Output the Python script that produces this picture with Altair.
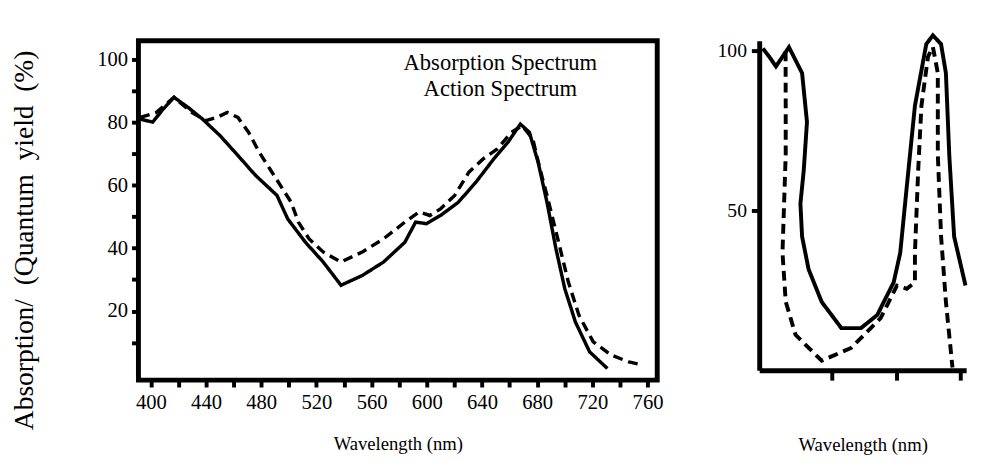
import altair as alt
import pandas as pd

# ---------------- left panel data ----------------
abs_nm = [392.3, 401.3, 409, 416.8, 427, 437.4, 450.2, 463.1, 476, 486.3, 491.4, 499.2, 512,
          524.9, 537.8, 553.2, 568.7, 584.1, 591.9, 599.6, 609.9, 622.8, 635.6, 648.5, 658.8,
          667.8, 674.3, 680.7, 687.1, 693.6, 700, 707.7, 718, 730.9]
abs_val = [81.1, 80.1, 84.3, 88, 84.8, 81.1, 75.8, 69.5, 63.1, 58.9, 56.8, 49.3, 41.9,
           35.6, 28.2, 31.3, 35.6, 41.9, 48.3, 47.8, 50.4, 54.6, 61, 68.4, 73.7,
           79.5, 76.9, 67.3, 54.6, 39.8, 27.1, 16.5, 7, 1.7]

act_nm = [392.3, 403.9, 416.8, 429.6, 439.9, 447.7, 455.4, 463.1, 470.8, 478.6, 486.3, 494,
          501.7, 506.9, 514.6, 524.9, 537.8, 553.2, 568.7, 584.1, 594.4, 602.2, 609.9, 620.2,
          630.5, 640.8, 651.1, 661.4, 669.1, 676.8, 682, 687.1, 694.9, 702.6, 710.3, 720.6,
          733.5, 746.4, 756.7]
act_val = [81.6, 83.2, 88, 83.2, 80.6, 81.6, 83.2, 81.6, 76.9, 70.5, 65.2, 59.9,
           54.6, 48.3, 43, 38.8, 35.6, 38.8, 43, 48.3, 51.5, 50.4, 52.5, 56.8,
           64.2, 68.4, 71.6, 76.9, 79, 74.8, 65.2, 56.8, 43, 29.2, 18.6, 10.2,
           6, 3.8, 2.8]

# ---------------- right panel data ----------------
r_solid_nm = [392.6, 402.7, 413, 423.2, 433.3, 453.7, 461.3, 456.2, 451.1, 453.7, 463.8, 484.2,
              514.8, 545.3, 570.7, 596.2, 606.4, 616.5, 629.3, 647, 657.2, 669.9, 677.5, 682.7,
              690.3, 708]
r_solid_val = [100.6, 98, 95, 98, 101, 92.9, 77.6, 62.3, 52.1, 41.8, 31.6, 21.4,
               13.2, 13.2, 17.3, 27.5, 36.7, 57.2, 82.7, 102, 104.7, 102, 92.9, 67.4,
               41.8, 26.5]

r_dash_nm = [428, 428.2, 428.2, 425.7, 423.2, 428.2, 443.5, 484.2, 530, 575.9, 601.2, 616.5,
             629.3, 629.3, 634.3, 639.4, 649.6, 657.2, 664.9, 664.9, 670, 677.5, 687.7]
r_dash_val = [99.7, 82.8, 67.5, 52.1, 36.8, 21.5, 11.1, 3, 7, 16.3, 26.5, 25.5,
              27.5, 36.7, 62.3, 82.7, 98, 101.1, 92.9, 67.4, 41.8, 21.4, 0.9]

legend_labels = ["Absorption Spectrum", "Action Spectrum"]
x_ticks_left = list(range(400, 761, 20))
y_ticks_left = list(range(10, 101, 10))
x_ticks_right = [500, 600, 700]
y_ticks_right = [50, 100]
x_title = "Wavelength (nm)"
y_title = "Absorption/\u00a0\u00a0(Quantum\u00a0\u00a0yield\u00a0\u00a0(%)"

FONT = "Liberation Serif"


def frame(nm, val, name):
    return pd.DataFrame({"nm": nm, "val": val, "series": name, "i": list(range(len(nm)))})


left_df = pd.concat([frame(abs_nm, abs_val, legend_labels[0]),
                     frame(act_nm, act_val, legend_labels[1])], ignore_index=True)
right_df = pd.concat([frame(r_solid_nm, r_solid_val, legend_labels[0]),
                      frame(r_dash_nm, r_dash_val, legend_labels[1])], ignore_index=True)

dash_scale = alt.Scale(domain=legend_labels, range=[[1, 0], [10, 6]])
dash_scale_r = alt.Scale(domain=legend_labels, range=[[1, 0], [7, 5]])

left_lines = alt.Chart(left_df).mark_line(color="black", strokeWidth=3.5).encode(
    x=alt.X("nm:Q", scale=alt.Scale(domain=[391, 767], nice=False, zero=False),
            axis=alt.Axis(values=x_ticks_left,
                          labelExpr="datum.value % 40 == 0 ? datum.label : ''",
                          title=x_title, grid=False, domain=False, labelOverlap=False,
                          tickSize=7, tickWidth=4, tickColor="black", labelPadding=5,
                          labelFontSize=21, titleFontSize=19, titlePadding=23,
                          titleFontWeight="normal")),
    y=alt.Y("val:Q", scale=alt.Scale(domain=[-2, 106], nice=False, zero=False),
            axis=alt.Axis(values=y_ticks_left,
                          labelExpr="datum.value % 20 == 0 ? datum.label : ''",
                          title=y_title, grid=False, domain=False, labelOverlap=False,
                          tickSize=7, tickWidth=4, tickColor="black", labelPadding=4,
                          labelFontSize=21, titleFontSize=28, titleFontWeight="normal",
                          titleX=-116, titleY=203, titleAlign="center",
                          titleBaseline="middle", titleAngle=-90)),
    strokeDash=alt.StrokeDash("series:N", scale=dash_scale, legend=None),
    detail="series:N",
    order="i:Q",
)

legend_text = alt.Chart(pd.DataFrame({"t": ["\n".join(legend_labels)]})).mark_text(
    font=FONT, fontSize=23, lineBreak="\n", lineHeight=26, align="center",
    baseline="top", color="black"
).encode(text="t:N", x=alt.value(369), y=alt.value(12))

left = alt.layer(left_lines, legend_text).properties(
    width=529, height=346,
    view=alt.ViewBackground(stroke="black", strokeWidth=5)
)

right = alt.Chart(right_df).mark_line(color="black", strokeWidth=4).encode(
    x=alt.X("nm:Q", scale=alt.Scale(domain=[387, 709], nice=False, zero=False),
            axis=alt.Axis(values=x_ticks_right, labels=False, title=x_title, grid=False,
                          domain=True, domainWidth=5, domainColor="black",
                          tickSize=10, tickWidth=4, tickColor="black",
                          titleFontSize=19, titlePadding=55, titleFontWeight="normal")),
    y=alt.Y("val:Q", scale=alt.Scale(domain=[0, 103], nice=False, zero=False),
            axis=alt.Axis(values=y_ticks_right, title="", grid=False, domain=True,
                          domainWidth=5, domainColor="black", tickSize=8, tickWidth=4,
                          tickColor="black", labelPadding=5, labelFontSize=20)),
    strokeDash=alt.StrokeDash("series:N", scale=dash_scale_r, legend=None),
    detail="series:N",
    order="i:Q",
).properties(width=211, height=336,
             view=alt.ViewBackground(stroke="transparent"))

chart = alt.hconcat(left, right, spacing=51).properties(
    padding={"left": 0, "top": 14, "right": 0, "bottom": 0},
    background="white",
).configure_axis(
    labelFont=FONT, titleFont=FONT, labelColor="black", titleColor="black"
)

chart.save("out.html", embed_options={"renderer": "svg", "actions": False})
